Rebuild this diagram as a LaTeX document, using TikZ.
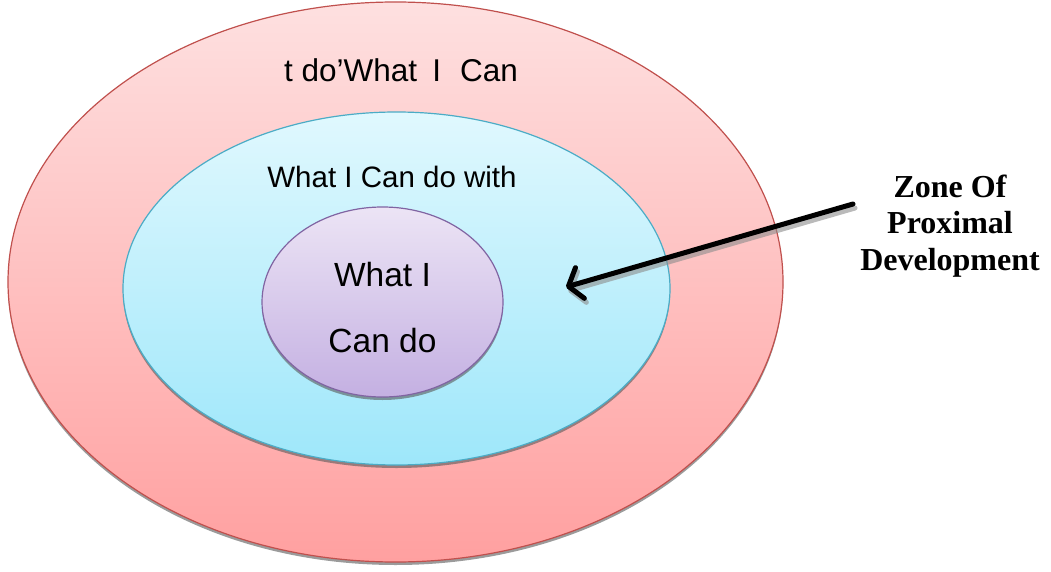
\documentclass[tikz,border=0pt]{standalone}
\usepackage{fontspec}
\setmainfont{Liberation Sans}
\newfontfamily\zpdserif{Liberation Serif}
\usetikzlibrary{shapes.geometric,shadows,arrows.meta}
\definecolor{outerTop}{RGB}{254,224,224}
\definecolor{outerBot}{RGB}{255,160,160}
\definecolor{outerLine}{RGB}{192,80,77}
\definecolor{midTop}{RGB}{224,248,254}
\definecolor{midBot}{RGB}{158,231,250}
\definecolor{midLine}{RGB}{75,172,198}
\definecolor{innTop}{RGB}{236,228,245}
\definecolor{innBot}{RGB}{196,176,226}
\definecolor{innLine}{RGB}{128,100,162}
\tikzset{
  zone/.style={ellipse, inner sep=0pt, line width=1.2pt,
    drop shadow={shadow xshift=0pt, shadow yshift=-3pt, opacity=0.6, fill=black!65}},
  lbl/.style={inner sep=0pt, anchor=base, text=black},
  zpd/.style={inner sep=0pt, anchor=base, font=\zpdserif\bfseries\fontsize{32}{36}\selectfont},
  pointer/.style={line width=5pt, line cap=round, line join=round,
    -{Straight Barb[length=12pt,width=32pt,line join=round,line cap=round]}}
}
\begin{document}
\begin{tikzpicture}[x=1pt,y=-1pt]
\useasboundingbox[fill=white] (0,0) rectangle (1051,572);
\node[zone, draw=outerLine, top color=outerTop, bottom color=outerBot,
  minimum width=775pt, minimum height=560pt] (outer) at (395.5,282) {};
\node[zone, draw=midLine, top color=midTop, bottom color=midBot,
  minimum width=547pt, minimum height=353pt] (mid) at (396.5,288.5) {};
\node[zone, draw=innLine, top color=innTop, bottom color=innBot,
  minimum width=241pt, minimum height=190pt] (inn) at (382.5,302) {};
\node[lbl, font=\fontsize{31.5}{36}\selectfont] (t1) at (401,82) {t do’What\hspace{15pt}I\hspace{19pt}Can};
\node[lbl, font=\fontsize{29.5}{34}\selectfont] (t2) at (392,187) {What I Can do with};
\node[lbl, font=\fontsize{33.5}{38}\selectfont] (t3) at (382.5,286) {What I};
\node[lbl, font=\fontsize{33.5}{38}\selectfont] (t4) at (382.5,352) {Can do};
\node[zpd] (z1) at (950,197) {Zone Of};
\node[zpd] (z2) at (950,233) {Proximal};
\node[zpd] (z3) at (950,270) {Development};
\coordinate (as) at (853,204);
\coordinate (ae) at (566,287);
\coordinate (ass) at (855,208);
\coordinate (aes) at (568,291);
\draw[pointer, draw=black!45, opacity=0.6] (ass) -- (aes);
\draw[pointer] (as) -- (ae);
\end{tikzpicture}
\end{document}
